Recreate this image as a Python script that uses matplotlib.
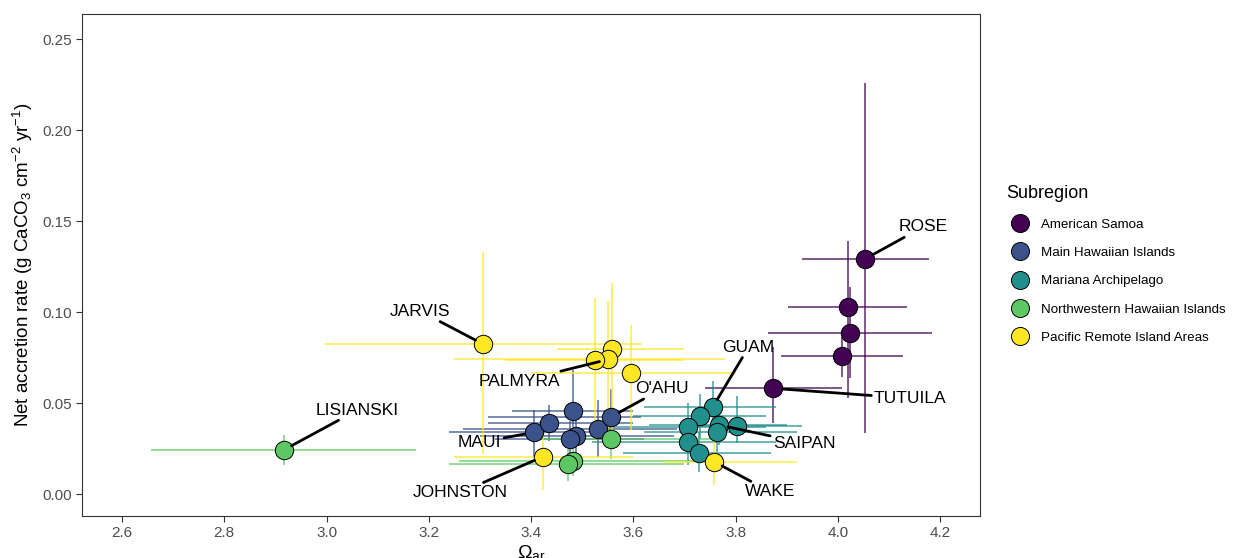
import matplotlib
matplotlib.use("Agg")
import matplotlib.pyplot as plt
from matplotlib.lines import Line2D

plt.rcParams["font.family"] = ["Liberation Sans", "DejaVu Sans"]
plt.rcParams["mathtext.fontset"] = "custom"
plt.rcParams["mathtext.rm"] = "Liberation Sans"
plt.rcParams["mathtext.it"] = "Liberation Sans"

# ---- data -------------------------------------------------------------------
subregions = ["American Samoa", "Main Hawaiian Islands", "Mariana Archipelago",
              "Northwestern Hawaiian Islands", "Pacific Remote Island Areas"]
colors = ["#440154", "#3B528B", "#21908C", "#5DC863", "#FDE725"]

site = ["ROSE", "", "", "", "TUTUILA",
        "MAUI", "", "", "", "", "", "O'AHU",
        "GUAM", "", "", "SAIPAN", "", "", "", "",
        "LISIANSKI", "", "", "",
        "JARVIS", "", "PALMYRA", "", "", "JOHNSTON", "WAKE"]
region = [0] * 5 + [1] * 7 + [2] * 8 + [3] * 4 + [4] * 7

omega = [4.053, 4.019, 4.024, 4.009, 3.874,
         3.405, 3.435, 3.483, 3.487, 3.476, 3.530, 3.557,
         3.755, 3.731, 3.706, 3.768, 3.764, 3.802, 3.706, 3.729,
         2.916, 3.556, 3.483, 3.473,
         3.307, 3.558, 3.551, 3.526, 3.595, 3.423, 3.758]
omega_lo = [3.930, 3.902, 3.864, 3.888, 3.740,
            3.240, 3.316, 3.362, 3.300, 3.330, 3.267, 3.316,
            3.620, 3.600, 3.550, 3.630, 3.620, 3.690, 3.520, 3.580,
            2.656, 3.420, 3.260, 3.240,
            2.997, 3.450, 3.250, 3.350, 3.400, 3.250, 3.660]
omega_hi = [4.178, 4.135, 4.184, 4.127, 4.008,
            3.560, 3.600, 3.600, 3.680, 3.620, 3.685, 3.616,
            3.880, 3.860, 3.860, 3.900, 3.920, 3.930, 3.880, 3.870,
            3.175, 3.780, 3.720, 3.700,
            3.617, 3.700, 3.780, 3.700, 3.800, 3.600, 3.920]

accr = [0.1292, 0.1030, 0.0887, 0.0759, 0.0581,
        0.0339, 0.0389, 0.0458, 0.0319, 0.0302, 0.0357, 0.0425,
        0.0477, 0.0431, 0.0370, 0.0379, 0.0343, 0.0374, 0.0288, 0.0227,
        0.0242, 0.0302, 0.0183, 0.0165,
        0.0823, 0.0797, 0.0740, 0.0737, 0.0667, 0.0205, 0.0178]
accr_lo = [0.0335, 0.0530, 0.0636, 0.0645, 0.0390,
           0.0205, 0.0290, 0.0315, 0.0200, 0.0120, 0.0205, 0.0280,
           0.0350, 0.0300, 0.0250, 0.0270, 0.0230, 0.0280, 0.0160, 0.0120,
           0.0160, 0.0190, 0.0100, 0.0070,
           0.0220, 0.0350, 0.0300, 0.0300, 0.0350, 0.0020, 0.0050]
accr_hi = [0.2260, 0.1390, 0.1140, 0.0865, 0.0810,
           0.0460, 0.0490, 0.0680, 0.0440, 0.0400, 0.0517, 0.0580,
           0.0620, 0.0550, 0.0500, 0.0500, 0.0460, 0.0540, 0.0420, 0.0340,
           0.0324, 0.0420, 0.0270, 0.0250,
           0.1330, 0.1160, 0.1060, 0.1080, 0.0930, 0.0400, 0.0350]

# label placement: offset of label centre from its point, in pixels
label_offset = {"ROSE": (58, 32), "TUTUILA": (137, -10), "GUAM": (36, 60),
                "SAIPAN": (85, -18), "WAKE": (56, -30), "O'AHU": (51, 28),
                "PALMYRA": (-89, -22), "JARVIS": (-63, 33), "MAUI": (-54, -10),
                "JOHNSTON": (-83, -36), "LISIANSKI": (74, 40)}

# ---- figure -----------------------------------------------------------------
W, H = 1233, 558
fig = plt.figure(figsize=(W / 100, H / 100), dpi=100)
ax = fig.add_axes([82 / W, 1 - 515.7 / H, (980 - 82) / W, (515.7 - 14.3) / H])

for i in range(len(omega)):
    c = colors[region[i]]
    ax.plot([omega_lo[i], omega_hi[i]], [accr[i], accr[i]], color=c, lw=1.1,
            alpha=0.85, zorder=2, solid_capstyle="butt")
    ax.plot([omega[i], omega[i]], [accr_lo[i], accr_hi[i]], color=c, lw=1.1,
            alpha=0.85, zorder=2, solid_capstyle="butt")

for i in range(len(omega)):
    ax.scatter(omega[i], accr[i], s=175, color=colors[region[i]],
               edgecolor="black", linewidth=0.7, zorder=3)

for i, name in enumerate(site):
    if not name:
        continue
    dx, dy = label_offset[name]
    ax.annotate(name, (omega[i], accr[i]), xytext=(dx, dy),
                textcoords="offset pixels", ha="center", va="center",
                fontsize=12.5, color="black", zorder=5,
                arrowprops=dict(arrowstyle="-", color="black", lw=2.0,
                                shrinkA=0, shrinkB=6.5))

ax.set_xlim(2.5218, 4.278)
ax.set_ylim(-0.0119, 0.2637)
ax.set_xticks([2.6, 2.8, 3.0, 3.2, 3.4, 3.6, 3.8, 4.0, 4.2])
ax.set_yticks([0.0, 0.05, 0.10, 0.15, 0.20, 0.25])
ax.set_xticklabels(["2.6", "2.8", "3.0", "3.2", "3.4", "3.6", "3.8", "4.0", "4.2"])
ax.set_yticklabels(["0.00", "0.05", "0.10", "0.15", "0.20", "0.25"])
ax.tick_params(colors="#333333", labelcolor="#4D4D4D", labelsize=11, length=4,
               width=0.8)
for sp in ax.spines.values():
    sp.set_color("#333333")
    sp.set_linewidth(0.8)

ax.set_xlabel(r"$\Omega_{ar}$", fontsize=14, labelpad=2)
ax.set_ylabel(r"Net accretion rate (g CaCO$_3$ cm$^{-2}$ yr$^{-1}$)", fontsize=13.5,
              labelpad=5)

handles = [Line2D([], [], marker="o", linestyle="none", markersize=13,
                  markerfacecolor=c, markeredgecolor="black", markeredgewidth=0.7)
           for c in colors]
leg = fig.legend(handles, subregions, title="Subregion", loc="upper left",
                 bbox_to_anchor=(1001 / W, 1 - 180 / H), frameon=False,
                 fontsize=9.6, title_fontsize=13, labelspacing=1.2,
                 handletextpad=0.6, borderaxespad=0)
leg._legend_box.align = "left"

fig.savefig("out.png", dpi=100)
